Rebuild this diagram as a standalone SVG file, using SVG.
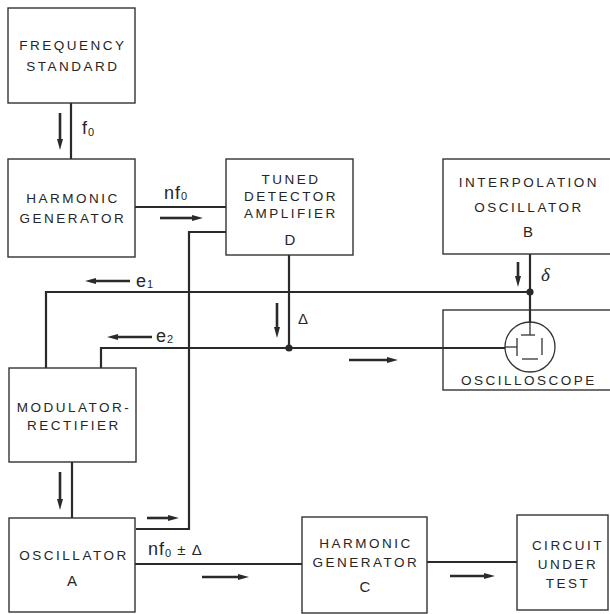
<svg xmlns="http://www.w3.org/2000/svg" width="610" height="614" viewBox="0 0 610 614">
<style>
.box{fill:none;stroke:#333;stroke-width:1.4}
.w{fill:none;stroke:#2a2a2a;stroke-width:2.2}
.thin{fill:none;stroke:#333;stroke-width:1.3}
.ar{fill:none;stroke:#2a2a2a;stroke-width:2.6}
.t{font-family:"Liberation Sans",Arial,sans-serif;font-size:13.5px;letter-spacing:2.5px;text-anchor:middle;fill:#262626}
.big{font-size:15px;letter-spacing:0}
.lab{font-family:"Liberation Sans",Arial,sans-serif;font-size:18px;fill:#262626;letter-spacing:1px}
.sub{font-size:11px}
.dot{fill:#2a2a2a}
</style>
<defs>
<marker id="ah" markerUnits="userSpaceOnUse" viewBox="0 0 11 6" refX="0" refY="3" markerWidth="11" markerHeight="6" orient="auto">
<path d="M0,0 L11,3 L0,6 Z" fill="#2a2a2a"/>
</marker>
</defs>
<rect width="610" height="614" fill="#fff"/>

<g id="connectors">
<line class="w" x1="71" y1="103" x2="71" y2="159"/>
<line class="w" x1="135" y1="207" x2="226" y2="207"/>
<polyline class="w" points="136,529 189,529 189,232 226,232"/>
<line class="w" x1="289" y1="255" x2="289" y2="348"/>
<polyline class="w" points="46,368 46,292 530,292"/>
<polyline class="w" points="101,368 101,348 505,348"/>
<line class="w" x1="530" y1="254" x2="530" y2="323"/>
<line class="w" x1="72" y1="462" x2="72" y2="518"/>
<line class="w" x1="135" y1="564" x2="302" y2="564"/>
<line class="w" x1="427" y1="562" x2="517" y2="562"/>
<circle class="dot" cx="289" cy="348" r="3.6"/>
<circle class="dot" cx="530" cy="292" r="3.6"/>
<line class="ar" x1="60" y1="113" x2="60" y2="139" marker-end="url(#ah)"/>
<line class="ar" x1="160" y1="218" x2="192" y2="218" marker-end="url(#ah)"/>
<line class="ar" x1="277" y1="303" x2="277" y2="327" marker-end="url(#ah)"/>
<line class="ar" x1="349" y1="360" x2="387" y2="360" marker-end="url(#ah)"/>
<line class="ar" x1="518" y1="262" x2="518" y2="276" marker-end="url(#ah)"/>
<line class="ar" x1="130" y1="281" x2="96" y2="281" marker-end="url(#ah)"/>
<line class="ar" x1="152" y1="337" x2="118" y2="337" marker-end="url(#ah)"/>
<line class="ar" x1="60" y1="472" x2="60" y2="499" marker-end="url(#ah)"/>
<line class="ar" x1="147" y1="518" x2="168" y2="518" marker-end="url(#ah)"/>
<line class="ar" x1="202" y1="577" x2="238" y2="577" marker-end="url(#ah)"/>
<line class="ar" x1="450" y1="576" x2="484" y2="576" marker-end="url(#ah)"/>
<text class="lab" x="82" y="134">f<tspan class="sub" dy="2">0</tspan></text>
<text class="lab" x="164" y="199">nf<tspan class="sub" dy="1">0</tspan></text>
<text class="lab" x="136" y="287">e<tspan class="sub" dy="1">1</tspan></text>
<text class="lab" x="156" y="342">e<tspan class="sub" dy="1">2</tspan></text>
<text class="lab" x="298" y="324" style="font-size:15px">Δ</text>
<text x="541" y="281" style="font-family:'Liberation Serif',serif;font-style:italic;font-size:19px;fill:#262626">δ</text>
<text class="lab" x="148" y="555">nf<tspan class="sub" dy="2">0</tspan><tspan dy="-2" style="font-size:15px"> ± Δ</tspan></text>
</g>

<g id="frequency-standard">
<rect class="box" x="8" y="8" width="127" height="95"/>
<text class="t" x="73" y="50">FREQUENCY</text>
<text class="t" x="73" y="71">STANDARD</text>
</g>
<g id="harmonic-generator">
<rect class="box" x="8" y="159" width="127" height="98"/>
<text class="t" x="73" y="203">HARMONIC</text>
<text class="t" x="73" y="223">GENERATOR</text>
</g>
<g id="tuned-detector-amplifier-d">
<rect class="box" x="226" y="159" width="127" height="96"/>
<text class="t" x="291" y="184">TUNED</text>
<text class="t" x="291" y="201">DETECTOR</text>
<text class="t" x="291" y="218">AMPLIFIER</text>
<text class="t big" x="290" y="245">D</text>
</g>
<g id="interpolation-oscillator-b">
<rect class="box" x="443" y="159" width="172" height="95"/>
<text class="t" x="529" y="187">INTERPOLATION</text>
<text class="t" x="529" y="212">OSCILLATOR</text>
<text class="t big" x="528" y="237">B</text>
</g>
<g id="oscilloscope">
<rect class="box" x="443" y="310" width="172" height="80"/>
<circle class="thin" cx="530" cy="347" r="25"/>
<line class="thin" x1="530" y1="322" x2="530" y2="335"/>
<line class="thin" x1="521" y1="335" x2="535" y2="335"/>
<line class="thin" x1="505" y1="347" x2="517" y2="347"/>
<line class="thin" x1="517" y1="338" x2="517" y2="356"/>
<line class="thin" x1="522" y1="359" x2="538" y2="359"/>
<line class="thin" x1="542" y1="338" x2="542" y2="355"/>
<text class="t" x="529" y="385">OSCILLOSCOPE</text>
</g>
<g id="modulator-rectifier">
<rect class="box" x="9" y="368" width="127" height="94"/>
<text class="t" x="74" y="412">MODULATOR-</text>
<text class="t" x="74" y="430">RECTIFIER</text>
</g>
<g id="oscillator-a">
<rect class="box" x="9" y="518" width="126" height="94"/>
<text class="t" x="74" y="560">OSCILLATOR</text>
<text class="t big" x="72" y="586">A</text>
</g>
<g id="harmonic-generator-c">
<rect class="box" x="302" y="517" width="125" height="96"/>
<text class="t" x="366" y="548">HARMONIC</text>
<text class="t" x="366" y="567">GENERATOR</text>
<text class="t big" x="365" y="592">C</text>
</g>
<g id="circuit-under-test">
<rect class="box" x="517" y="515" width="91" height="95"/>
<text class="t" x="568" y="550">CIRCUIT</text>
<text class="t" x="568" y="569">UNDER</text>
<text class="t" x="568" y="588">TEST</text>
</g>
</svg>
